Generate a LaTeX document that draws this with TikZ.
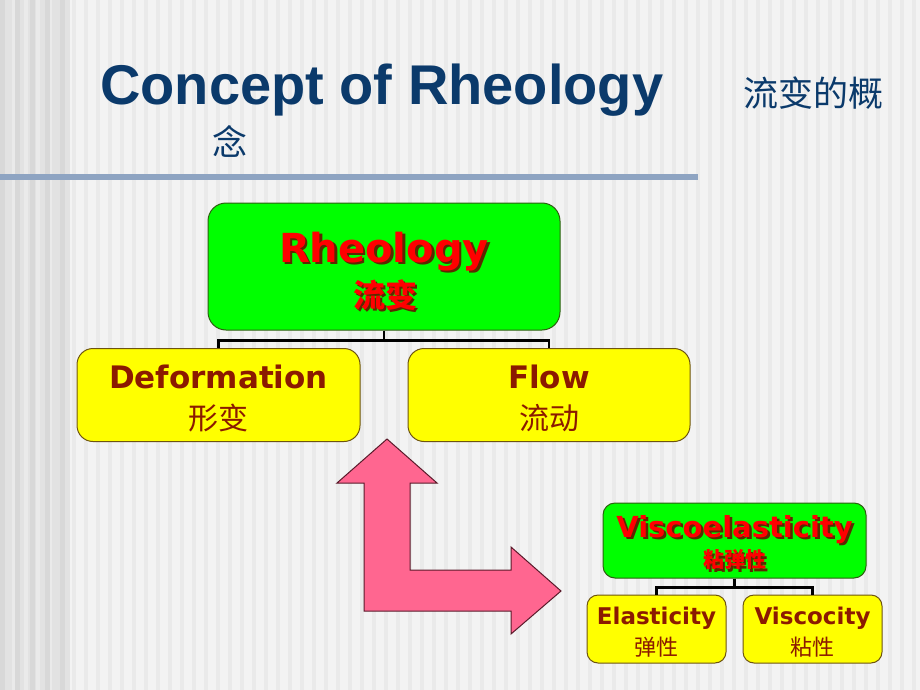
\documentclass[tikz,border=0pt]{standalone}
\usepackage{fontspec}
\setmainfont{Liberation Sans}
\newfontfamily\titlefont{Liberation Sans}
\newfontfamily\boxfont{DejaVu Sans}
\newfontfamily\cjk{Noto Sans CJK SC}
\usepackage{tikz}
\usetikzlibrary{positioning, calc}
\definecolor{navy}{HTML}{0B3A6B}
\definecolor{rulegray}{HTML}{8EA4C2}
\definecolor{limegreen}{HTML}{00FF00}
\definecolor{greenedge}{HTML}{2E5E10}
\definecolor{boxyellow}{HTML}{FFFF00}
\definecolor{yellowedge}{HTML}{6E5410}
\definecolor{maroontext}{HTML}{8B1A00}
\definecolor{brightred}{HTML}{FF0000}
\definecolor{redshadow}{HTML}{5A2A00}
\definecolor{arrowpink}{HTML}{FF6690}
\definecolor{arrowedge}{HTML}{5A1A2A}
\definecolor{bgA}{HTML}{F3F3F3}
\definecolor{bgB}{HTML}{EAEAEA}
\definecolor{bgC}{HTML}{E2E2E2}
\definecolor{bgD}{HTML}{D8D8D8}

\newcommand{\shadowed}[1]{\makebox[0pt][l]{\kern2.5pt\raisebox{-2.5pt}{\color{redshadow}#1}}#1}

\tikzset{
  greenbox/.style={draw=greenedge, fill=limegreen, line width=1pt, rounded corners=18pt},
  yellowbox/.style={draw=yellowedge, fill=boxyellow, line width=1pt, rounded corners=16pt},
  treeline/.style={draw=black, line width=2.5pt},
  redword/.style={text=brightred, inner sep=0pt},
  darkword/.style={text=maroontext, inner sep=0pt}
}

\begin{document}
\begin{tikzpicture}[x=1pt, y=-1pt]
\useasboundingbox (0,0) rectangle (920,690);

% background
\fill[bgA] (0,0) rectangle (920,690);
\fill[bgC] (0,0) rectangle (70,690);
\foreach \x in {0,12,...,912}
	\fill[bgB] (\x,0) rectangle ++(4,690);
\foreach \x in {0,15,30,45,60}
	\fill[bgD] (\x,0) rectangle ++(5,690);

% title
\node[anchor=base west, inner sep=0pt, text=navy, font=\titlefont\bfseries\fontsize{56}{60}\selectfont] (title) at (100,105) {Concept of Rheology};
\node[inner sep=0pt, text=navy, font=\cjk\fontsize{35}{38}\selectfont] (titlecn) at (813,93) {流变的概};
\node[inner sep=0pt, text=navy, font=\cjk\fontsize{35}{38}\selectfont] (titlecn2) at (230,141) {念};
\draw[rulegray, line width=6pt] (0,176.5) -- (698,176.5);

% top tree
\node[greenbox, minimum width=352, minimum height=127] (rheo) at (384,266.5) {};
\node[redword, anchor=base, font=\boxfont\bfseries\fontsize{40}{44}\selectfont] (rheoT) at (384,262) {\shadowed{Rheology}};
\node[redword, font=\cjk\bfseries\fontsize{32}{35}\selectfont] (rheoC) at (385,296) {\shadowed{流变}};

\node[yellowbox, minimum width=283, minimum height=93] (deform) at (218.5,395) {};
\node[darkword, anchor=base, font=\boxfont\bfseries\fontsize{31}{34}\selectfont] (deformT) at (218.5,388) {Deformation};
\node[darkword, font=\cjk\fontsize{30}{33}\selectfont] (deformC) at (218.5,418) {形变};

\node[yellowbox, minimum width=282, minimum height=93] (flow) at (549,395) {};
\node[darkword, anchor=base, font=\boxfont\bfseries\fontsize{31}{34}\selectfont] (flowT) at (549,388) {Flow};
\node[darkword, font=\cjk\fontsize{30}{33}\selectfont] (flowC) at (549,418) {流动};

\draw[treeline] (rheo.south) -- ++(0,10) coordinate (split);
\draw[treeline] (split) -| (deform.north);
\draw[treeline] (split) -| (flow.north);

% L-shaped arrow
\draw[fill=arrowpink, draw=arrowedge, line width=1pt, line join=miter]
	(387,439) -- (437,483) -- (410,483) -- (410,570) -- (511,570) -- (511,547)
	-- (561,591) -- (511,634) -- (511,611) -- (364,611) -- (364,483) -- (337,483) -- cycle;

% bottom tree
\node[greenbox, rounded corners=12pt, minimum width=263, minimum height=75] (visco) at (734.5,540.5) {};
\node[redword, anchor=base, font=\boxfont\bfseries\fontsize{29}{32}\selectfont] (viscoT) at (734.5,537) {\shadowed{Viscoelasticity}};
\node[redword, font=\cjk\bfseries\fontsize{21}{23}\selectfont] (viscoC) at (734.5,561) {\shadowed{粘弹性}};

\node[yellowbox, rounded corners=11pt, minimum width=139, minimum height=68] (elastic) at (656.5,629) {};
\node[darkword, anchor=base, font=\boxfont\bfseries\fontsize{23}{26}\selectfont] (elasticT) at (656.5,624) {Elasticity};
\node[darkword, font=\cjk\fontsize{22}{24}\selectfont] (elasticC) at (656.5,647) {弹性};

\node[yellowbox, rounded corners=11pt, minimum width=139, minimum height=68] (viscous) at (812.5,629) {};
\node[darkword, anchor=base, font=\boxfont\bfseries\fontsize{23}{26}\selectfont] (viscousT) at (812.5,624) {Viscocity};
\node[darkword, font=\cjk\fontsize{22}{24}\selectfont] (viscousC) at (812.5,647) {粘性};

\draw[treeline] (visco.south) -- ++(0,9) coordinate (split2);
\draw[treeline] (split2) -| (elastic.north);
\draw[treeline] (split2) -| (viscous.north);

\end{tikzpicture}
\end{document}
